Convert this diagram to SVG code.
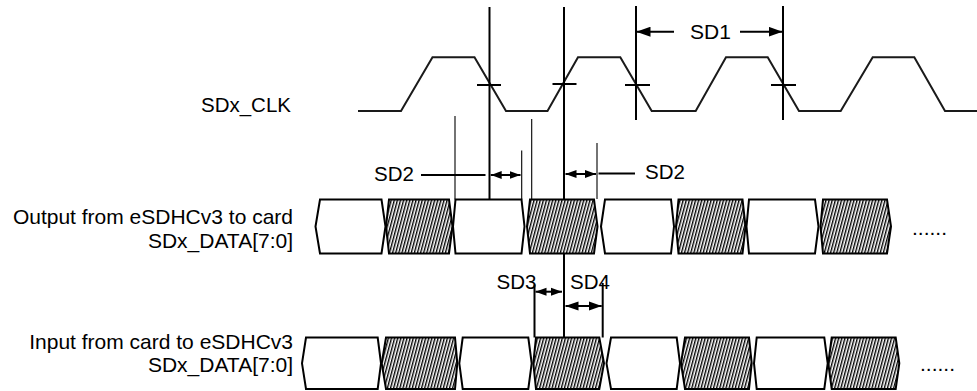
<svg xmlns="http://www.w3.org/2000/svg" width="977" height="391" viewBox="0 0 977 391">
<style>
text{font-family:"Liberation Sans",Arial,sans-serif;font-size:21px;fill:#000}
.lbl{text-anchor:end}
.clk{fill:none;stroke:#1a1a1a;stroke-width:2;stroke-linejoin:miter}
.thick{stroke:#000;stroke-width:2;fill:none}
.thin{stroke:#000;stroke-width:1.1;fill:none}
.w{fill:#fff;stroke:#000;stroke-width:2;stroke-linejoin:miter}
.h{fill:url(#hatch);stroke:#000;stroke-width:2;stroke-linejoin:miter}
.tick{stroke:#000;stroke-width:2}
</style>
<defs>
<pattern id="hatch" patternUnits="userSpaceOnUse" width="3" height="10" patternTransform="rotate(15)">
<rect width="3" height="10" fill="#fff"/>
<line x1="0.7" y1="0" x2="0.7" y2="10" stroke="#000" stroke-width="1.4"/>
</pattern>
<marker id="big" markerUnits="userSpaceOnUse" markerWidth="14" markerHeight="10" refX="14" refY="5" orient="auto-start-reverse">
<path d="M0,0 L14,5 L0,10 Z" fill="#000"/>
</marker>
<marker id="mid" markerUnits="userSpaceOnUse" markerWidth="13" markerHeight="10" refX="13" refY="5" orient="auto-start-reverse">
<path d="M0,0.5 L13,5 L0,9.5 Z" fill="#000"/>
</marker>
<marker id="sm" markerUnits="userSpaceOnUse" markerWidth="11" markerHeight="9" refX="11" refY="4.5" orient="auto-start-reverse">
<path d="M0,0.5 L11,4.5 L0,8.5 Z" fill="#000"/>
</marker>
</defs>

<g id="labels">
<text class="lbl" x="291" y="111.5" style="font-size:20.5px">SDx_CLK</text>
<text class="lbl" x="293" y="223.5">Output from eSDHCv3 to card</text>
<text class="lbl" x="293" y="247.5">SDx_DATA[7:0]</text>
<text class="lbl" x="293" y="349">Input from card to eSDHCv3</text>
<text class="lbl" x="293" y="371.7">SDx_DATA[7:0]</text>
</g>

<g id="clock">
<path class="clk" d="M358,111 L401,111 L432.5,57.3 L474.5,57.3 L506,111 L547.5,111 L578,57.3 L620.3,57.3 L651.7,111 L695.7,111 L726,57.3 L767.7,57.3 L799,111 L840.7,111 L872.7,57.3 L914.3,57.3 L945,111 L977,111"/>
<line class="tick" x1="477" y1="85" x2="501" y2="85"/>
<line class="tick" x1="552.5" y1="84" x2="576.5" y2="84"/>
<line class="tick" x1="625" y1="85" x2="650" y2="85"/>
<line class="tick" x1="771" y1="85" x2="796" y2="85"/>
</g>

<g id="connectors">
<line class="thick" x1="489.5" y1="7" x2="489.5" y2="199.5"/>
<line class="thick" x1="564" y1="7" x2="564" y2="337.5"/>
<line class="thick" x1="636" y1="6" x2="636" y2="120"/>
<line class="thick" x1="783" y1="6" x2="783" y2="120"/>
<line class="thin" x1="455" y1="116" x2="455" y2="199.5"/>
<line class="thin" x1="521.7" y1="150.5" x2="521.7" y2="199.5"/>
<line class="thin" x1="531.7" y1="119" x2="531.7" y2="199.5"/>
<line class="thin" x1="597" y1="143" x2="597" y2="199"/>
<line class="thick" x1="534.5" y1="284.5" x2="534.5" y2="337.5"/>
<line class="thick" x1="602.7" y1="283" x2="602.7" y2="337.5"/>
<line class="thick" x1="674" y1="31.7" x2="636.5" y2="31.7" marker-end="url(#big)"/>
<line class="thick" x1="740" y1="31.7" x2="782.5" y2="31.7" marker-end="url(#big)"/>
<line class="thick" x1="421" y1="175" x2="485.5" y2="175"/>
<line class="thick" x1="490.7" y1="175" x2="520.5" y2="175" marker-start="url(#sm)" marker-end="url(#sm)"/>
<line class="thick" x1="565.5" y1="174" x2="596" y2="174" marker-start="url(#sm)" marker-end="url(#sm)"/>
<line class="thick" x1="598.5" y1="173.5" x2="635" y2="173.5"/>
<line class="thick" x1="535.5" y1="291.7" x2="562" y2="291.7" marker-start="url(#sm)" marker-end="url(#sm)"/>
<line class="thick" x1="565.5" y1="306" x2="601.7" y2="306" marker-start="url(#mid)" marker-end="url(#mid)"/>
</g>

<g id="sd-labels">
<text x="690" y="39">SD1</text>
<text x="374" y="180.5" style="font-size:20.5px">SD2</text>
<text x="645" y="178.5" style="font-size:20.5px">SD2</text>
<text x="496.5" y="288.5" style="font-size:20.5px">SD3</text>
<text x="570" y="288.5" style="font-size:20.5px">SD4</text>
</g>

<g id="output-data">
<path class="w" d="M315.5,226.5 L320,199.5 L381.5,199.5 L385.5,226.5 L381.5,253.5 L320,253.5 Z"/>
<path class="h" d="M386,226.5 L389,199.5 L449,199.5 L452.5,226.5 L449,253.5 L389,253.5 Z"/>
<path class="w" d="M453,226.5 L455.5,199.5 L521.5,199.5 L524.5,226.5 L521.5,253.5 L455.5,253.5 Z"/>
<path class="h" d="M527,226.5 L530,199.5 L594,199.5 L597.5,226.5 L594,253.5 L530,253.5 Z"/>
<path class="w" d="M601,226.5 L605,199.5 L671,199.5 L674,226.5 L671,253.5 L605,253.5 Z"/>
<path class="h" d="M676,226.5 L678.5,199.5 L742.5,199.5 L745.5,226.5 L742.5,253.5 L678.5,253.5 Z"/>
<path class="w" d="M746.5,226.5 L749,199.5 L815,199.5 L818.5,226.5 L815,253.5 L749,253.5 Z"/>
<path class="h" d="M820.5,226.5 L823,199.5 L887,199.5 L891,226.5 L887,253.5 L823,253.5 Z"/>
<text x="912" y="234.5">......</text>
</g>

<g id="input-data">
<path class="w" d="M302,363.3 L306,337.5 L377.7,337.5 L381,363.3 L377.7,389 L306,389 Z"/>
<path class="h" d="M381.7,363.3 L386,337.5 L455,337.5 L457.3,363.3 L455,389 L386,389 Z"/>
<path class="w" d="M459.3,363.3 L462.7,337.5 L528.3,337.5 L531.7,363.3 L528.3,389 L462.7,389 Z"/>
<path class="h" d="M533.3,363.3 L536,337.5 L599.3,337.5 L604,363.3 L599.3,389 L536,389 Z"/>
<path class="w" d="M606.5,363.3 L611,337.5 L676.7,337.5 L680,363.3 L676.7,389 L611,389 Z"/>
<path class="h" d="M681,363.3 L685,337.5 L749,337.5 L751.7,363.3 L749,389 L685,389 Z"/>
<path class="w" d="M754,363.3 L756.7,337.5 L824.3,337.5 L827.7,363.3 L824.3,389 L756.7,389 Z"/>
<path class="h" d="M828.3,363.3 L831.7,337.5 L895.7,337.5 L899.3,363.3 L895.7,389 L831.7,389 Z"/>
<text x="920" y="370.5">......</text>
</g>
</svg>
